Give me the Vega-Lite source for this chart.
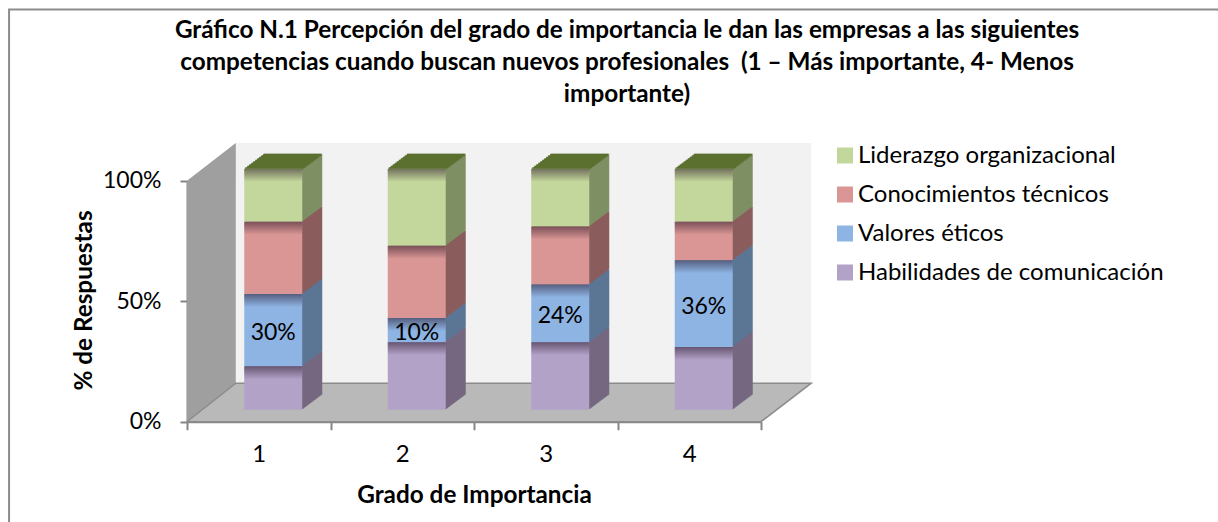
{"$schema":"https://vega.github.io/schema/vega-lite/v6.json","width":1218,"height":522,"autosize":{"type":"none"},"padding":0,"background":"white","config":{"view":{"stroke":null},"font":"Lato"},
"title":{"text":["Gráfico N.1 Percepción del grado de importancia le dan las empresas a las siguientes","competencias cuando buscan nuevos profesionales\u00a0 (1 – Más importante, 4- Menos","importante)"],"anchor":"middle","frame":"group","dx":18,"offset":-107.5,"font":"Lato","fontSize":24.3,"fontWeight":"bold","color":"black","lineHeight":32},
"resolve":{"scale":{"x":"independent","color":"independent"}},
"layer":[
{"data":{"values":[{"t":"marco","u":-1.24,"v":-0.42},{"t":"marco","u":-1.24,"v":1.71},{"t":"marco","u":7.2,"v":1.71}]},"mark":{"type":"line","color":"#8c8c8c","strokeWidth":2},"encoding":{"x":{"field":"u","type":"quantitative","sort":null,"scale":{"domain":[0,4],"range":[187,761],"nice":false,"zero":false},"axis":null},"y":{"field":"v","type":"quantitative","scale":{"domain":[0,1],"range":[421.7,180.7],"nice":false},"axis":{"offset":-187,"values":[0,0.5,1],"format":".0%","title":"% de Respuestas","titleFont":"Lato","titleFontSize":24.3,"titleFontWeight":"bold","titleColor":"black","titleX":-91,"titleY":300,"labelFont":"Lato","labelFontSize":23,"labelColor":"black","labelPadding":19,"tickSize":7,"tickColor":"#868686","tickWidth":2,"domainColor":"#868686","domainWidth":2,"grid":false}},"order":{"field":"u"}}},
{"data":{"values":[{"u":0.34,"a":0.16,"b":1.156},{"u":4.35,"a":0.16,"b":1.156}]},"mark":{"type":"area","orient":"vertical","color":"#f2f2f2"},"encoding":{"x":{"field":"u","type":"quantitative","scale":{"domain":[0,4],"range":[187,761],"nice":false,"zero":false},"axis":null},"y":{"field":"a","type":"quantitative"},"y2":{"field":"b"}}},
{"data":{"values":[{"u":0,"a":0,"b":1},{"u":0.34,"a":0.16,"b":1.156}]},"mark":{"type":"area","orient":"vertical","color":"#9f9f9f"},"encoding":{"x":{"field":"u","type":"quantitative","scale":{"domain":[0,4],"range":[187,761],"nice":false,"zero":false},"axis":null},"y":{"field":"a","type":"quantitative"},"y2":{"field":"b"}}},
{"data":{"values":[{"u":0,"a":0,"b":0},{"u":0.34,"a":0,"b":0.16},{"u":4,"a":0,"b":0.16},{"u":4.35,"a":0.16,"b":0.16}]},"mark":{"type":"area","orient":"vertical","color":"#b9b9b9","stroke":"#8c8c8c","strokeWidth":1.5},"encoding":{"x":{"field":"u","type":"quantitative","scale":{"domain":[0,4],"range":[187,761],"nice":false,"zero":false},"axis":null},"y":{"field":"a","type":"quantitative"},"y2":{"field":"b"}}},
{"data":{"values":[
{"grado":"1","serie":"Habilidades de comunicación","valor":0.18},{"grado":"1","serie":"Valores éticos","valor":0.30},{"grado":"1","serie":"Conocimientos técnicos","valor":0.30},{"grado":"1","serie":"Liderazgo organizacional","valor":0.22},
{"grado":"2","serie":"Habilidades de comunicación","valor":0.28},{"grado":"2","serie":"Valores éticos","valor":0.10},{"grado":"2","serie":"Conocimientos técnicos","valor":0.30},{"grado":"2","serie":"Liderazgo organizacional","valor":0.32},
{"grado":"3","serie":"Habilidades de comunicación","valor":0.28},{"grado":"3","serie":"Valores éticos","valor":0.24},{"grado":"3","serie":"Conocimientos técnicos","valor":0.24},{"grado":"3","serie":"Liderazgo organizacional","valor":0.24},
{"grado":"4","serie":"Habilidades de comunicación","valor":0.26},{"grado":"4","serie":"Valores éticos","valor":0.36},{"grado":"4","serie":"Conocimientos técnicos","valor":0.16},{"grado":"4","serie":"Liderazgo organizacional","valor":0.22}
]},
"transform":[{"stack":"valor","groupby":["grado"],"as":["v0","v1"]}],
"resolve":{"scale":{"color":"independent"}},
"encoding":{"x":{"field":"grado","type":"nominal","scale":{"range":[187,761],"paddingInner":0,"paddingOuter":0},"axis":{"orient":"bottom","offset":-100.3,"title":"Grado de Importancia","titleFont":"Lato","titleFontSize":24.3,"titleFontWeight":"bold","titleColor":"black","titleX":474,"titleY":62,"labelAngle":0,"labelFont":"Lato","labelFontSize":24,"labelColor":"black","labelPadding":13,"tickBand":"extent","tickSize":8,"tickColor":"#868686","tickWidth":2,"domainColor":"#868686","domainWidth":2}}},
"layer":[
{"encoding":{"y":{"field":"v0","type":"quantitative"},"y2":{"field":"v1"},"fill":{"field":"serie","type":"nominal","legend":null,"scale":{"domain":["Liderazgo organizacional","Conocimientos técnicos","Valores éticos","Habilidades de comunicación"],"range":["#7f8f64","#8b5d5d","#5b7695","#75677f"]}}},
"layer":[
{"mark":{"type":"bar","width":58,"xOffset":34.5,"yOffset":-27,"y2Offset":-27}},
{"mark":{"type":"bar","width":58,"xOffset":33.5,"yOffset":-26.25,"y2Offset":-26.25}},
{"mark":{"type":"bar","width":58,"xOffset":32.5,"yOffset":-25.5,"y2Offset":-25.5}},
{"mark":{"type":"bar","width":58,"xOffset":31.5,"yOffset":-24.75,"y2Offset":-24.75}},
{"mark":{"type":"bar","width":58,"xOffset":30.5,"yOffset":-24,"y2Offset":-24}},
{"mark":{"type":"bar","width":58,"xOffset":29.5,"yOffset":-23.25,"y2Offset":-23.25}},
{"mark":{"type":"bar","width":58,"xOffset":28.5,"yOffset":-22.5,"y2Offset":-22.5}},
{"mark":{"type":"bar","width":58,"xOffset":27.5,"yOffset":-21.75,"y2Offset":-21.75}},
{"mark":{"type":"bar","width":58,"xOffset":26.5,"yOffset":-21,"y2Offset":-21}},
{"mark":{"type":"bar","width":58,"xOffset":25.5,"yOffset":-20.25,"y2Offset":-20.25}},
{"mark":{"type":"bar","width":58,"xOffset":24.5,"yOffset":-19.5,"y2Offset":-19.5}},
{"mark":{"type":"bar","width":58,"xOffset":23.5,"yOffset":-18.75,"y2Offset":-18.75}},
{"mark":{"type":"bar","width":58,"xOffset":22.5,"yOffset":-18,"y2Offset":-18}},
{"mark":{"type":"bar","width":58,"xOffset":21.5,"yOffset":-17.25,"y2Offset":-17.25}},
{"mark":{"type":"bar","width":58,"xOffset":20.5,"yOffset":-16.5,"y2Offset":-16.5}},
{"mark":{"type":"bar","width":58,"xOffset":19.5,"yOffset":-15.75,"y2Offset":-15.75}},
{"mark":{"type":"bar","width":58,"xOffset":18.5,"yOffset":-15,"y2Offset":-15}},
{"mark":{"type":"bar","width":58,"xOffset":17.5,"yOffset":-14.25,"y2Offset":-14.25}},
{"mark":{"type":"bar","width":58,"xOffset":16.5,"yOffset":-13.5,"y2Offset":-13.5}},
{"mark":{"type":"bar","width":58,"xOffset":15.5,"yOffset":-12.75,"y2Offset":-12.75}}
]},
{"transform":[{"filter":"datum.serie === 'Liderazgo organizacional'"}],"encoding":{"y":{"field":"v1","type":"quantitative"}},
"layer":[
{"mark":{"type":"tick","size":58,"thickness":2.5,"color":"#5b702f","opacity":1,"xOffset":33.5,"yOffset":-25.8}},
{"mark":{"type":"tick","size":58,"thickness":2.5,"color":"#5b702f","opacity":1,"xOffset":31.5,"yOffset":-24.3}},
{"mark":{"type":"tick","size":58,"thickness":2.5,"color":"#5b702f","opacity":1,"xOffset":29.5,"yOffset":-22.8}},
{"mark":{"type":"tick","size":58,"thickness":2.5,"color":"#5b702f","opacity":1,"xOffset":27.5,"yOffset":-21.3}},
{"mark":{"type":"tick","size":58,"thickness":2.5,"color":"#5b702f","opacity":1,"xOffset":25.5,"yOffset":-19.8}},
{"mark":{"type":"tick","size":58,"thickness":2.5,"color":"#5b702f","opacity":1,"xOffset":23.5,"yOffset":-18.3}},
{"mark":{"type":"tick","size":58,"thickness":2.5,"color":"#5b702f","opacity":1,"xOffset":21.5,"yOffset":-16.8}},
{"mark":{"type":"tick","size":58,"thickness":2.5,"color":"#5b702f","opacity":1,"xOffset":19.5,"yOffset":-15.3}},
{"mark":{"type":"tick","size":58,"thickness":2.5,"color":"#5b702f","opacity":1,"xOffset":17.5,"yOffset":-13.8}},
{"mark":{"type":"tick","size":58,"thickness":2.5,"color":"#5b702f","opacity":1,"xOffset":15.5,"yOffset":-12.3}}
]},
{"mark":{"type":"bar","width":58,"xOffset":14.5,"yOffset":-12,"y2Offset":-12},"encoding":{"y":{"field":"v0","type":"quantitative"},"y2":{"field":"v1"},"color":{"field":"serie","type":"nominal","scale":{"domain":["Liderazgo organizacional","Conocimientos técnicos","Valores éticos","Habilidades de comunicación"],"range":["#c3d69b","#d99694","#8eb4e3","#b2a2c7"]},"legend":{"orient":"none","legendX":833,"legendY":143.5,"title":null,"labelFont":"Lato","labelFontSize":24,"labelColor":"black","labelOffset":1,"symbolType":"square","symbolSize":256,"symbolStrokeWidth":0,"rowPadding":15,"labelLimit":400}}}},
{"mark":{"type":"tick","size":58,"thickness":13,"xOffset":14.5,"yOffset":-5.5,"opacity":1,"color":{"gradient":"linear","x1":0,"y1":0,"x2":0,"y2":1,"stops":[{"offset":0,"color":"rgba(30,10,30,0.5)"},{"offset":1,"color":"rgba(30,10,30,0)"}]}},"encoding":{"y":{"field":"v1","type":"quantitative"}}},
{"transform":[{"filter":"datum.serie === 'Valores éticos'"},{"fold":["v0","v1"],"as":["limite","borde"]}],"mark":{"type":"text","font":"Lato","fontSize":23,"color":"black","xOffset":14.5,"yOffset":-9},"encoding":{"y":{"aggregate":"mean","field":"borde","type":"quantitative"},"text":{"field":"valor","type":"quantitative","format":".0%"}}}
]}
]}
